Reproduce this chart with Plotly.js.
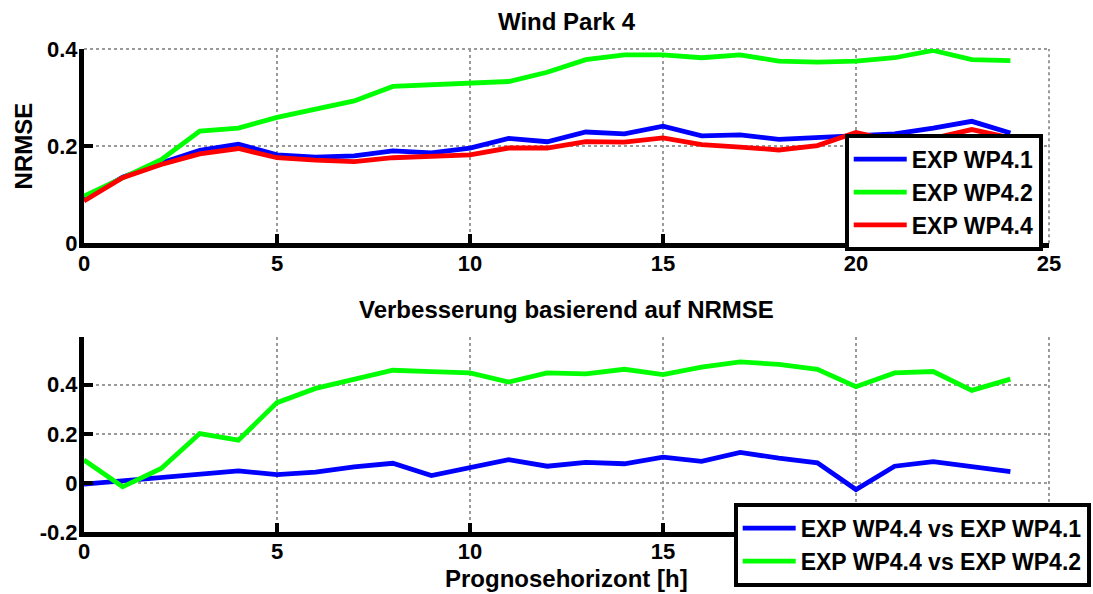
<!DOCTYPE html>
<html>
<head>
<meta charset="utf-8">
<script src="https://cdn.plot.ly/plotly-3.0.1.min.js"></script>
<style>html,body{margin:0;padding:0;background:#fff;}#chart{width:1093px;height:594px;}</style>
</head>
<body>
<div id="chart"></div>
<script>
// Prognosehorizont [h]
var hours = [0,1,2,3,4,5,6,7,8,9,10,11,12,13,14,15,16,17,18,19,20,21,22,23,24];

// Top: NRMSE per experiment
var nrmseWP41 = [0.090,0.136,0.165,0.191,0.204,0.182,0.177,0.180,0.190,0.186,0.196,0.216,0.209,0.229,0.225,0.241,0.221,0.223,0.214,0.218,0.220,0.225,0.237,0.251,0.227];
var nrmseWP42 = [0.097,0.135,0.172,0.231,0.237,0.259,0.276,0.293,0.323,0.326,0.330,0.333,0.352,0.378,0.388,0.388,0.382,0.388,0.375,0.373,0.375,0.382,0.397,0.378,0.376];
var nrmseWP44 = [0.087,0.135,0.162,0.184,0.195,0.176,0.171,0.168,0.176,0.179,0.182,0.196,0.196,0.209,0.208,0.217,0.203,0.198,0.192,0.201,0.228,0.210,0.216,0.234,0.217];

// Bottom: improvement based on NRMSE
var impVsWP41 = [-0.005,0.008,0.024,0.033,0.049,0.034,0.044,0.065,0.080,0.030,0.061,0.095,0.068,0.084,0.078,0.105,0.088,0.124,0.101,0.082,-0.027,0.068,0.087,0.068,0.046];
var impVsWP42 = [0.093,-0.016,0.059,0.201,0.174,0.327,0.385,0.422,0.459,0.453,0.448,0.411,0.448,0.444,0.463,0.441,0.472,0.493,0.483,0.463,0.392,0.448,0.454,0.377,0.423];

var topNames = ['EXP WP4.1','EXP WP4.2','EXP WP4.4'];
var bottomNames = ['EXP WP4.4 vs EXP WP4.1','EXP WP4.4 vs EXP WP4.2'];
var ticksX = [0,5,10,15,20,25];
var topTickTextX = ['0','5','10','15','20','25'];
var bottomTickTextX = ['0','5','10','15','',''];   // 20 and 25 lie under the legend in the original
var topTicksY = [0,0.2,0.4];
var topTickTextY = ['0','0.2','0.4'];
var bottomTicksY = [-0.2,0,0.2,0.4];
var bottomTickTextY = ['-0.2','0','0.2','0.4'];

var FONT = 'Liberation Sans, Arial, sans-serif';
var LW = 4.8;
var GRIDC = '#9a9a9a';

var traces = [
  {x: hours, y: nrmseWP41, name: topNames[0], type:'scatter', mode:'lines', line:{color:'#0000ff', width:LW}, xaxis:'x', yaxis:'y', legend:'legend'},
  {x: hours, y: nrmseWP42, name: topNames[1], type:'scatter', mode:'lines', line:{color:'#00ff00', width:LW}, xaxis:'x', yaxis:'y', legend:'legend'},
  {x: hours, y: nrmseWP44, name: topNames[2], type:'scatter', mode:'lines', line:{color:'#ff0000', width:LW}, xaxis:'x', yaxis:'y', legend:'legend'},
  {x: hours, y: impVsWP41, name: bottomNames[0], type:'scatter', mode:'lines', line:{color:'#0000ff', width:LW}, xaxis:'x2', yaxis:'y2', legend:'legend2'},
  {x: hours, y: impVsWP42, name: bottomNames[1], type:'scatter', mode:'lines', line:{color:'#00ff00', width:LW}, xaxis:'x2', yaxis:'y2', legend:'legend2'}
];

var axisCommon = {
  showline: true, linecolor: '#000', linewidth: 5, mirror: false,
  ticks: 'inside', ticklen: 9, tickwidth: 4, tickcolor: '#000',
  showgrid: true, gridcolor: GRIDC, gridwidth: 2, griddash: 'dot',
  zeroline: false,
  tickfont: {family: FONT, size: 22, color: '#000', weight: 'bold'}
};
function ax(extra){ return Object.assign({}, JSON.parse(JSON.stringify(axisCommon)), extra); }

var titleFont = {family: FONT, size: 24, color:'#000', weight:'bold'};
var legendFont = {family: FONT, size: 23, color:'#000', weight:'bold'};

var layout = {
  width: 1093, height: 594,
  paper_bgcolor: '#fff', plot_bgcolor: '#fff',
  margin: {l: 84, r: 44, t: 49, b: 62, autoexpand: false},
  showlegend: true,
  font: {family: FONT, color: '#000'},
  xaxis: ax({domain:[0,1], anchor:'y', range:[0,25], tickvals: ticksX, ticktext: topTickTextX, ticklabelstandoff: -4}),
  yaxis: ax({domain:[0.598,1], anchor:'x', range:[0,0.4], tickvals: topTicksY, ticktext: topTickTextY, ticklabelstandoff: -3,
    title:{text:'NRMSE', font: titleFont, standoff: 9}}),
  xaxis2: ax({domain:[0,1], anchor:'y2', range:[0,25], tickvals: ticksX, ticktext: bottomTickTextX, ticklabelstandoff: -4}),
  yaxis2: ax({domain:[0,0.404], anchor:'x2', range:[-0.2,0.595], tickvals: bottomTicksY, ticktext: bottomTickTextY, ticklabelstandoff: -3}),
  legend: {x: 0.9935, y: 0.5824, xanchor:'right', yanchor:'bottom', xref:'paper', yref:'paper',
    bgcolor:'#fff', bordercolor:'#000', borderwidth: 4, tracegroupgap: 0, itemwidth: 53,
    font: legendFont},
  legend2: {x: 1.0432, y: 0.0607, xanchor:'right', yanchor:'top', xref:'paper', yref:'paper',
    bgcolor:'#fff', bordercolor:'#000', borderwidth: 4, tracegroupgap: 0, itemwidth: 53,
    font: legendFont},
  shapes: [
    // dotted grid lines on the open edges of the axes boxes
    {type:'line', xref:'x domain', yref:'y domain', x0:0, x1:1, y0:1, y1:1, layer:'below', line:{color:GRIDC, width:2, dash:'dot'}},
    {type:'line', xref:'x domain', yref:'y domain', x0:1, x1:1, y0:0, y1:1, layer:'below', line:{color:GRIDC, width:2, dash:'dot'}},
    {type:'line', xref:'x2 domain', yref:'y2 domain', x0:1, x1:1, y0:0, y1:1, layer:'below', line:{color:GRIDC, width:2, dash:'dot'}}
  ],
  annotations: [
    {text:'Wind Park 4', xref:'paper', yref:'paper', x:0.5, y:1.0565, xanchor:'center', yanchor:'middle', showarrow:false, font: titleFont},
    {text:'Verbesserung basierend auf NRMSE', xref:'paper', yref:'paper', x:0.5, y:0.4602, xanchor:'center', yanchor:'middle', showarrow:false, font: titleFont},
    {text:'Prognosehorizont [h]', xref:'paper', yref:'paper', x:0.5, y:-0.0967, xanchor:'center', yanchor:'middle', showarrow:false, font: titleFont}
  ]
};

Plotly.newPlot('chart', traces, layout, {displayModeBar:false, staticPlot:true});
</script>
</body>
</html>
